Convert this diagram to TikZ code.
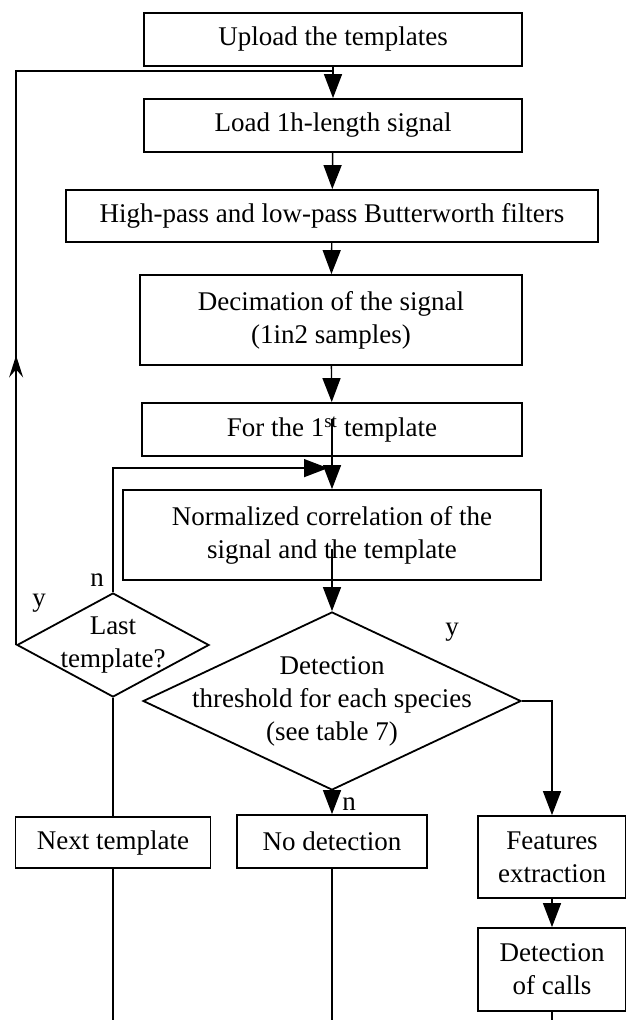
\documentclass[tikz,border=0pt]{standalone}
\usepackage{fontspec}
\setmainfont{Liberation Serif}
\usetikzlibrary{arrows.meta,shapes.geometric,decorations.markings}
\begin{document}
\begin{tikzpicture}[x=1pt,y=-1pt,
  box/.style={draw,line width=1.8pt,inner sep=0pt,align=center,font=\fontsize{27}{33}\selectfont},
  dia/.style={draw,diamond,line width=1.8pt,inner sep=0pt},
  txt/.style={align=center,font=\fontsize{27}{33}\selectfont,inner sep=0pt},
  lbl/.style={font=\fontsize{27}{30}\selectfont,inner sep=0pt},
  conn/.style={line width=1.4pt},
  arr/.style={conn,-{Triangle[width=18pt,length=24pt]}}]
\useasboundingbox (0,0) rectangle (626,1020);
\fill[white] (0,0) rectangle (626,1020);

\node[box,minimum width=378pt,minimum height=53pt] (upload) at (333,39.5) {Upload the templates};
\node[box,minimum width=378pt,minimum height=53pt] (load) at (333,125.5) {Load 1h-length signal};
\node[box,minimum width=532pt,minimum height=52pt] (filt) at (332,216) {High-pass and low-pass Butterworth filters};
\node[box,minimum width=382pt,minimum height=90pt] (dec) at (331,320) {Decimation of the signal\\(1in2 samples)};
\node[box,minimum width=380pt,minimum height=53pt] (first) at (332,429.5) {For the 1\textsuperscript{st} template};
\node[box,minimum width=418pt,minimum height=90pt] (norm) at (332,535) {Normalized correlation of the\\signal and the template};
\node[dia,minimum width=378pt,minimum height=178pt] (det) at (332,701) {};
\node[txt] at (det) {Detection\\threshold for each species\\(see table 7)};
\node[dia,minimum width=192pt,minimum height=104pt] (last) at (113,645) {};
\node[txt] at (last) {Last\\template?};
\node[box,minimum width=195pt,minimum height=51pt] (next) at (113,842.5) {Next template};
\node[box,minimum width=190pt,minimum height=53pt] (nodet) at (332,841.5) {No detection};
\node[box,minimum width=148pt,minimum height=82pt] (feat) at (552,857) {Features\\extraction};
\node[box,minimum width=148pt,minimum height=83pt] (calls) at (552,969.5) {Detection\\of calls};

\coordinate (endnext) at (113,1020);
\coordinate (endnodet) at (332,1020);
\coordinate (endcalls) at (552,1020);

\draw[arr] (upload) -- (load);
\draw[arr] (load) -- (filt);
\draw[arr] (filt) -- (dec);
\draw[arr] (dec) -- (first);
\draw[arr] ([yshift=-17pt]first.north) -- (norm.north);
\draw[arr] (last.north) |- ([xshift=-4pt,yshift=21pt]norm.north);
\draw[arr] ([yshift=32pt]norm.south) -- (det.north);
\draw[arr] (det.east) -| (feat.north);
\draw[arr] (det.south) -- (nodet.north);
\draw[arr] (feat) -- (calls);
\draw[conn] (last.south) -- (next.north);
\draw[conn] (next.south) -- (endnext);
\draw[conn] (nodet.south) -- (endnodet);
\draw[conn] (calls.south) -- (endcalls);
\draw[conn,postaction={decorate},decoration={markings,mark=at position 0.325 with {\arrow{Stealth[width=14pt,length=22pt,inset=8pt]}}}]
  (last.west) |- ([yshift=-4pt]upload.south);

\node[lbl] at (97,580) {n};
\node[lbl] at (39,603) {y};
\node[lbl] at (452,632) {y};
\node[lbl] at (349,804) {n};
\end{tikzpicture}
\end{document}
